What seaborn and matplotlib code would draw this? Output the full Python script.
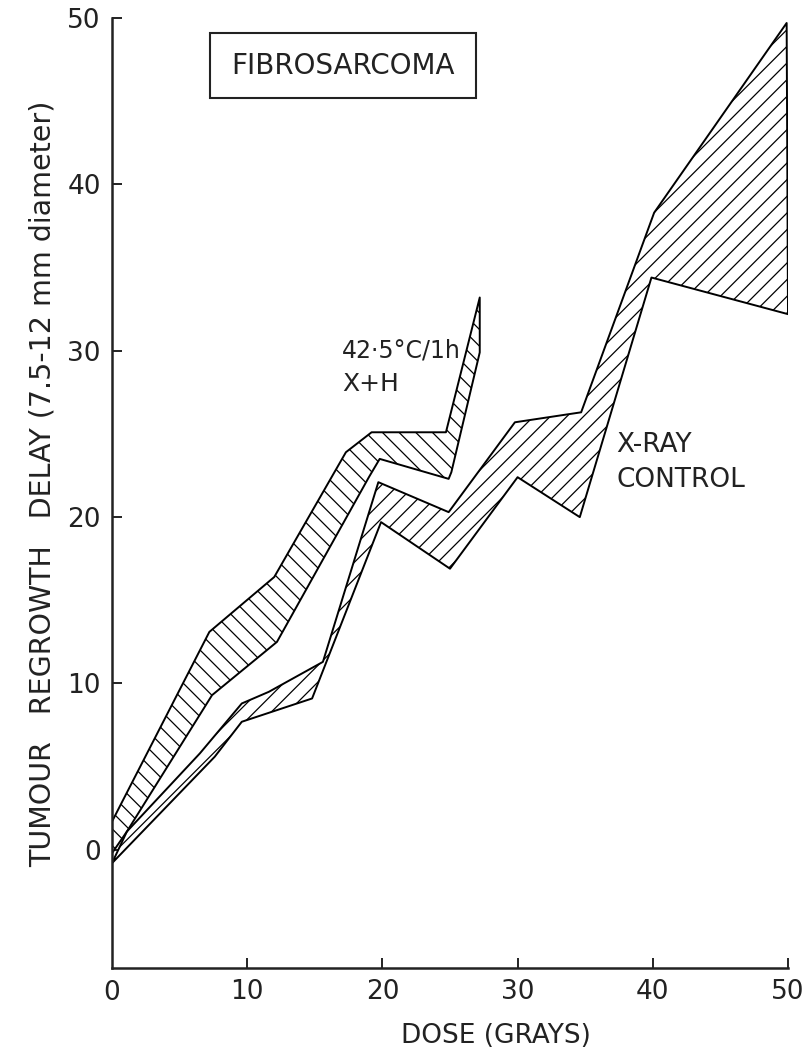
import numpy as np
import pandas as pd
import matplotlib
matplotlib.use("Agg")
import matplotlib.pyplot as plt
import seaborn as sns
from matplotlib.patches import Rectangle

# X + H (42.5 C / 1 h) band
xh_upper_x = [0, 7.2, 12.0, 17.3, 19.2, 24.7, 27.2]
xh_upper_y = [1.7, 13.1, 16.4, 23.9, 25.1, 25.1, 33.2]
xh_lower_x = [0, 1.1, 7.4, 12.2, 19.0, 19.8, 24.9, 25.1, 27.2]
xh_lower_y = [-0.2, 1.1, 9.3, 12.5, 22.4, 23.5, 22.3, 22.7, 29.9]

# X-ray control band
xr_upper_x = [0, 1.1, 6.5, 9.6, 11.6, 15.6, 19.7, 24.9, 29.8, 34.7, 40.1, 49.9]
xr_upper_y = [-0.8, 1.1, 5.8, 8.8, 9.5, 11.3, 22.1, 20.3, 25.7, 26.3, 38.3, 49.7]
xr_lower_x = [0, 7.6, 9.6, 14.8, 19.9, 25.0, 30.0, 34.6, 39.9, 50]
xr_lower_y = [-0.8, 5.6, 7.7, 9.1, 19.7, 16.9, 22.4, 20.0, 34.4, 32.2]

x_ticks = [10, 20, 30, 40, 50]
x_ticklabels = ["10", "20", "30", "40", "50"]
y_ticks = [0, 10, 20, 30, 40, 50]


def band(ux, uy, lx, ly):
    px = list(ux) + list(lx[::-1]) + [ux[0]]
    py = list(uy) + list(ly[::-1]) + [uy[0]]
    return pd.DataFrame({"dose": px, "delay": py})


sns.set_style("ticks")
plt.rcParams["font.family"] = ["DejaVu Sans"]
plt.rcParams["hatch.linewidth"] = 0.9

ink = "#222222"

fig = plt.figure(figsize=(8.11, 10.53), dpi=100)
ax = fig.add_axes([112 / 811, 1 - 968 / 1053, (788 - 112) / 811, (968 - 18) / 1053])

xh = band(xh_upper_x, xh_upper_y, xh_lower_x, xh_lower_y)
xr = band(xr_upper_x, xr_upper_y, xr_lower_x, xr_lower_y)

ax.fill(xh["dose"], xh["delay"], facecolor="white", edgecolor="black",
        hatch="\\\\", linewidth=0)
ax.fill(xr["dose"], xr["delay"], facecolor="white", edgecolor="black",
        hatch="//", linewidth=0)
sns.lineplot(data=xh, x="dose", y="delay", sort=False, estimator=None,
             color="black", lw=1.4, ax=ax)
sns.lineplot(data=xr, x="dose", y="delay", sort=False, estimator=None,
             color="black", lw=1.4, ax=ax)

ax.set_xlim(0, 50)
ax.set_ylim(-7.1, 50)
ax.set_xticks(x_ticks)
ax.set_xticklabels(x_ticklabels)
ax.set_yticks(y_ticks)
ax.tick_params(direction="in", length=7, width=1.4, labelsize=19,
               colors=ink, pad=8)
for s in ["left", "bottom"]:
    ax.spines[s].set_linewidth(1.8)
    ax.spines[s].set_color(ink)
sns.despine(ax=ax)

# the x-axis 0 sits under the corner, without a tick
ax.text(0, -7.85, "0", ha="center", va="top", fontsize=19, color=ink)

ax.set_xlabel("DOSE (GRAYS)", fontsize=19, color=ink)
ax.set_ylabel("TUMOUR   REGROWTH   DELAY (7.5-12 mm diameter)", fontsize=20.5,
              color=ink)
ax.xaxis.set_label_coords(0.568, -0.058)
ax.yaxis.set_label_coords(-0.082, 0.51)

ax.add_patch(Rectangle((0.1456, 0.916), 0.393, 0.068, transform=ax.transAxes,
                       fill=False, edgecolor=ink, lw=1.5))
ax.text(0.342, 0.950, "FIBROSARCOMA", transform=ax.transAxes, ha="center",
        va="center", fontsize=20, color=ink)

ax.text(17.0, 29.6, "42·5°C/1h", fontsize=17, color=ink, va="baseline")
ax.text(17.0, 27.6, "X+H", fontsize=18, color=ink, va="baseline")
ax.text(37.3, 23.9, "X-RAY", fontsize=19, color=ink, va="baseline")
ax.text(37.3, 21.8, "CONTROL", fontsize=19, color=ink, va="baseline")

fig.savefig("out.png", dpi=100)
